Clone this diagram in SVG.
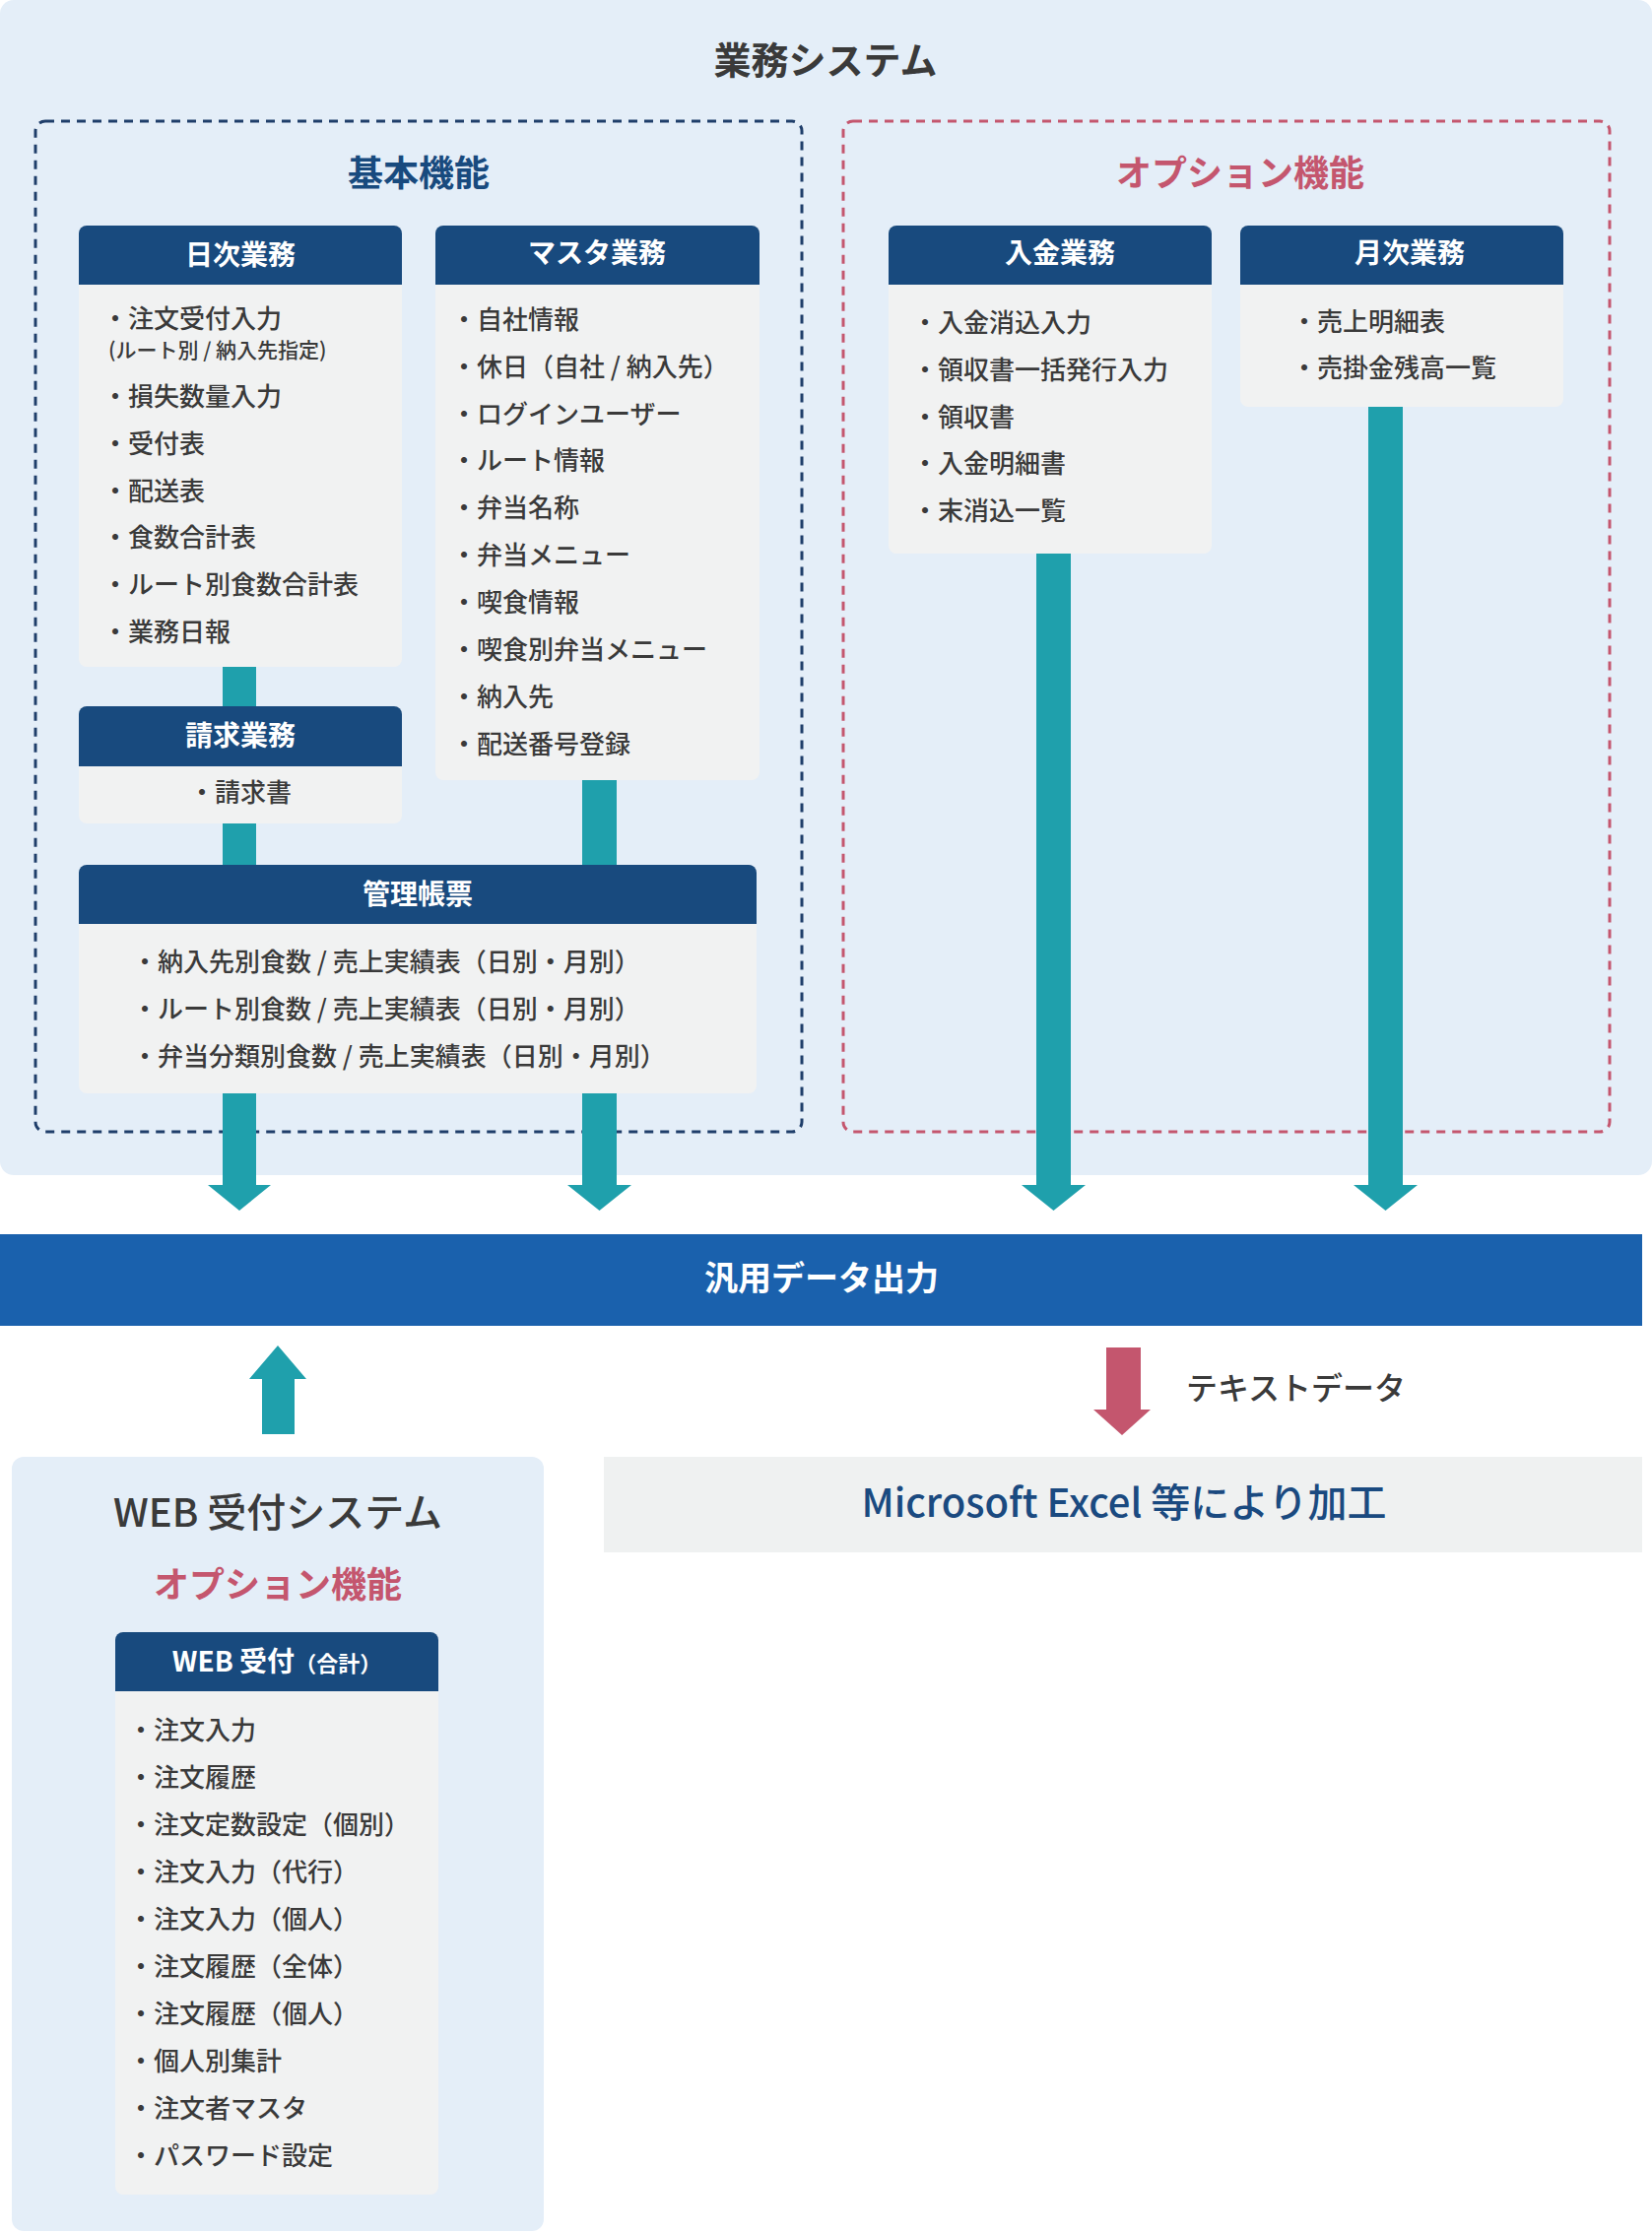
<svg xmlns="http://www.w3.org/2000/svg" width="1677" height="2267" viewBox="0 0 1677 2267">
<defs>
<style>
text{font-family:"Noto Sans CJK JP","Noto Sans",sans-serif;}
.panel{fill:#e4eef8;}
.hd{fill:#184a7e;}
.bd{fill:#f1f2f2;}
.teal{fill:#1fa0ac;}
.ht{fill:#fff;font-size:28px;font-weight:700;text-anchor:middle;}
.it{fill:#3a3a3a;font-size:26px;font-weight:500;}
.sm{fill:#3a3a3a;font-size:21px;font-weight:500;}
</style>
</defs>
<rect class="panel" x="0" y="0" width="1677" height="1193" rx="14"/>
<text x="838" y="75" text-anchor="middle" font-size="38" font-weight="700" fill="#3a3a3a">業務システム</text>
<rect x="36" y="123" width="778" height="1026" rx="10" fill="none" stroke="#1f3e6a" stroke-width="3" stroke-dasharray="9 7"/>
<rect x="856" y="123" width="778" height="1026" rx="10" fill="none" stroke="#c4566e" stroke-width="3" stroke-dasharray="9 7"/>
<text x="425" y="189" text-anchor="middle" font-size="36" font-weight="700" fill="#184a7e">基本機能</text>
<text x="1259" y="189" text-anchor="middle" font-size="36" font-weight="700" fill="#c4566e">オプション機能</text>

<g id="connectors">
<rect class="teal" x="226" y="670" width="34" height="55"/>
<rect class="teal" x="226" y="830" width="34" height="55"/>
<rect class="teal" x="591" y="785" width="35" height="100"/>
<path class="teal" d="M226 1105h34v98h15l-32 26l-32-26h15z"/>
<path class="teal" d="M591 1105h35v98h15l-32.5 26l-32.5-26h15z"/>
<path class="teal" d="M1052 555h35v648h15l-32.5 26l-32.5-26h15z"/>
<path class="teal" d="M1389 405h35v798h15l-32.5 26l-32.5-26h15z"/>
<path class="teal" d="M266 1456v-56h-13l29-34l29 34h-12v56z"/>
<path fill="#c4566e" d="M1123 1368h35v63h10l-29 26l-29-26h13z"/>
</g>

<g id="nichiji">
<rect class="bd" x="80" y="229" width="328" height="448" rx="8"/>
<path class="hd" d="M80 289v-52a8 8 0 0 1 8-8h312a8 8 0 0 1 8 8v52z"/>
<text class="ht" x="244" y="269">日次業務</text>
<text class="it" x="104" y="333">・注文受付入力</text>
<text class="sm" x="110" y="363">(ルート別 / 納入先指定)</text>
<text class="it" x="104" y="412">・損失数量入力</text>
<text class="it" x="104" y="460">・受付表</text>
<text class="it" x="104" y="508">・配送表</text>
<text class="it" x="104" y="555">・食数合計表</text>
<text class="it" x="104" y="603">・ルート別食数合計表</text>
<text class="it" x="104" y="651">・業務日報</text>
</g>

<g id="seikyu">
<rect class="bd" x="80" y="717" width="328" height="119" rx="8"/>
<path class="hd" d="M80 778v-53a8 8 0 0 1 8-8h312a8 8 0 0 1 8 8v53z"/>
<text class="ht" x="244" y="757">請求業務</text>
<text class="it" x="244" y="814" text-anchor="middle">・請求書</text>
</g>

<g id="master">
<rect class="bd" x="442" y="229" width="329" height="563" rx="8"/>
<path class="hd" d="M442 289v-52a8 8 0 0 1 8-8h313a8 8 0 0 1 8 8v52z"/>
<text class="ht" x="606" y="267">マスタ業務</text>
<text class="it" x="458" y="334">・自社情報</text>
<text class="it" x="458" y="382">・休日（自社 / 納入先）</text>
<text class="it" x="458" y="430">・ログインユーザー</text>
<text class="it" x="458" y="477">・ルート情報</text>
<text class="it" x="458" y="525">・弁当名称</text>
<text class="it" x="458" y="573">・弁当メニュー</text>
<text class="it" x="458" y="621">・喫食情報</text>
<text class="it" x="458" y="669">・喫食別弁当メニュー</text>
<text class="it" x="458" y="717">・納入先</text>
<text class="it" x="458" y="765">・配送番号登録</text>
</g>

<g id="kanri">
<rect class="bd" x="80" y="878" width="688" height="232" rx="8"/>
<path class="hd" d="M80 938v-52a8 8 0 0 1 8-8h672a8 8 0 0 1 8 8v52z"/>
<text class="ht" x="424" y="918">管理帳票</text>
<text class="it" x="134" y="986">・納入先別食数 / 売上実績表（日別・月別）</text>
<text class="it" x="134" y="1034">・ルート別食数 / 売上実績表（日別・月別）</text>
<text class="it" x="134" y="1082">・弁当分類別食数 / 売上実績表（日別・月別）</text>
</g>

<g id="nyukin">
<rect class="bd" x="902" y="229" width="328" height="333" rx="8"/>
<path class="hd" d="M902 289v-52a8 8 0 0 1 8-8h312a8 8 0 0 1 8 8v52z"/>
<text class="ht" x="1076" y="267">入金業務</text>
<text class="it" x="926" y="337">・入金消込入力</text>
<text class="it" x="926" y="385">・領収書一括発行入力</text>
<text class="it" x="926" y="433">・領収書</text>
<text class="it" x="926" y="480">・入金明細書</text>
<text class="it" x="926" y="528">・末消込一覧</text>
</g>

<g id="getsuji">
<rect class="bd" x="1259" y="229" width="328" height="184" rx="8"/>
<path class="hd" d="M1259 289v-52a8 8 0 0 1 8-8h312a8 8 0 0 1 8 8v52z"/>
<text class="ht" x="1431" y="267">月次業務</text>
<text class="it" x="1311" y="336">・売上明細表</text>
<text class="it" x="1311" y="383">・売掛金残高一覧</text>
</g>

<g id="hanyo">
<rect x="0" y="1253" width="1667" height="93" fill="#1a61ad"/>
<text x="834" y="1310" text-anchor="middle" font-size="34" font-weight="700" fill="#fff">汎用データ出力</text>
</g>

<text x="1204" y="1421" font-size="32" font-weight="500" fill="#3a3a3a">テキストデータ</text>

<g id="excel">
<rect x="613" y="1479" width="1054" height="97" fill="#eff1f1"/>
<text x="1141" y="1540" text-anchor="middle" font-size="40" font-weight="500" fill="#1a4a80">Microsoft Excel 等により加工</text>
</g>

<g id="web">
<rect class="panel" x="12" y="1479" width="540" height="786" rx="12"/>
<text x="282" y="1550" text-anchor="middle" font-size="40" font-weight="500" fill="#3a3a3a">WEB 受付システム</text>
<text x="282" y="1622" text-anchor="middle" font-size="36" font-weight="700" fill="#c4566e">オプション機能</text>
<rect class="bd" x="117" y="1657" width="328" height="571" rx="8"/>
<path class="hd" d="M117 1717v-52a8 8 0 0 1 8-8h312a8 8 0 0 1 8 8v52z"/>
<text class="ht" x="281" y="1697">WEB 受付<tspan font-size="22">（合計）</tspan></text>
<text class="it" x="130" y="1766">・注文入力</text>
<text class="it" x="130" y="1814">・注文履歴</text>
<text class="it" x="130" y="1862">・注文定数設定（個別）</text>
<text class="it" x="130" y="1910">・注文入力（代行）</text>
<text class="it" x="130" y="1958">・注文入力（個人）</text>
<text class="it" x="130" y="2006">・注文履歴（全体）</text>
<text class="it" x="130" y="2054">・注文履歴（個人）</text>
<text class="it" x="130" y="2102">・個人別集計</text>
<text class="it" x="130" y="2150">・注文者マスタ</text>
<text class="it" x="130" y="2198">・パスワード設定</text>
</g>
</svg>
